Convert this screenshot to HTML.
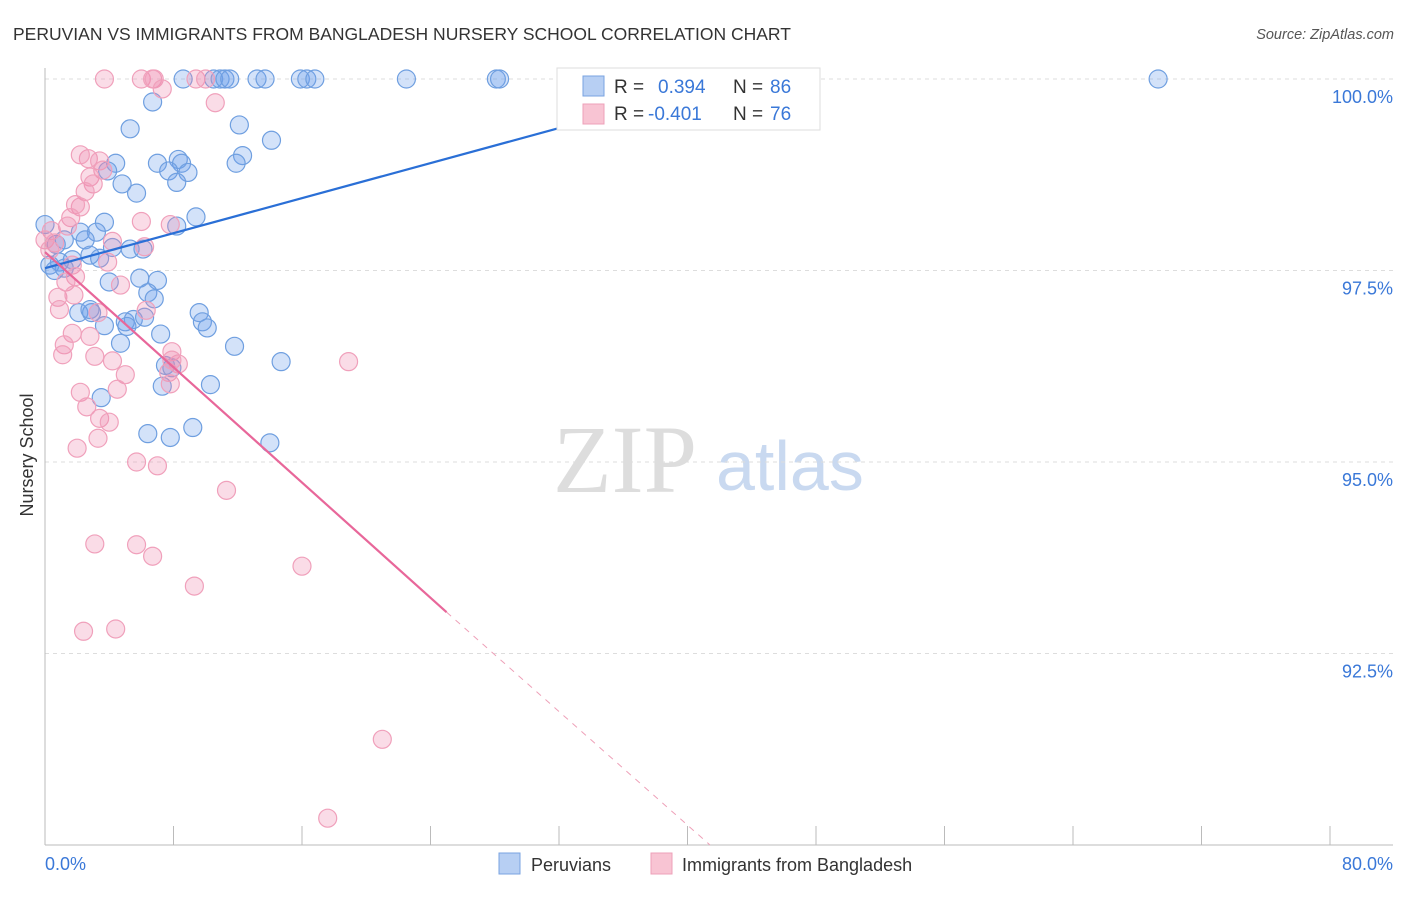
<!DOCTYPE html>
<html><head><meta charset="utf-8">
<style>
body{margin:0;background:#fff;font-family:"Liberation Sans",sans-serif;}
</style></head>
<body>
<svg id="chart" width="1406" height="892" xmlns="http://www.w3.org/2000/svg" font-family="Liberation Sans, sans-serif">
<text x="13" y="40" font-size="17.5" fill="#333">PERUVIAN VS IMMIGRANTS FROM BANGLADESH NURSERY SCHOOL CORRELATION CHART</text>
<text x="1394" y="39" font-size="14.5" fill="#555" font-style="italic" text-anchor="end">Source: ZipAtlas.com</text>
<g>
<text x="553" y="492" font-size="96" font-family="Liberation Serif, serif" fill="#ddd">ZIP</text>
<text x="716" y="490" font-size="70" fill="#c9d9f0">atlas</text>
</g>
<g id="grid"></g>
<g id="axes"></g>
<g id="marks"></g>
<g id="trends"></g>
<text transform="translate(33,455) rotate(-90)" font-size="18" fill="#333" text-anchor="middle">Nursery School</text>
<g>
<rect x="557" y="68" width="263" height="62" fill="#fff" stroke="#ddd"/>
<rect x="583" y="76" width="21" height="20" fill="#b7cff3" stroke="#7aa3e0"/>
<rect x="583" y="104" width="21" height="20" fill="#f8c4d3" stroke="#eea0b8"/>
<text x="614" y="93" font-size="19" fill="#333">R = </text><text x="658" y="93" font-size="19" fill="#3a78d8">0.394</text>
<text x="733" y="93" font-size="19" fill="#333">N = </text><text x="770" y="93" font-size="19" fill="#3a78d8">86</text>
<text x="614" y="120" font-size="19" fill="#333">R = </text><text x="648" y="120" font-size="19" fill="#3a78d8">-0.401</text>
<text x="733" y="120" font-size="19" fill="#333">N = </text><text x="770" y="120" font-size="19" fill="#3a78d8">76</text>
</g>
<g>
<g><rect x="499" y="853" width="21" height="21" fill="#b7cff3" stroke="#7aa3e0"/><text x="531" y="871" font-size="18" fill="#333">Peruvians</text></g>
<g><rect x="651" y="853" width="21" height="21" fill="#f8c4d3" stroke="#eea0b8"/><text x="682" y="871" font-size="18" fill="#333">Immigrants from Bangladesh</text></g>
</g>
</svg>
<script>
const xTicks=[0,8,16,24,32,40,48,56,64,72,80];
const yTicks=[100,97.5,95,92.5];
const yTickLabels=["100.0%","97.5%","95.0%","92.5%"];
const xEndLabels=["0.0%","80.0%"];
function px(x,y){return [(45+(x-45)),y];}
const blueX=[8.6,10.5,10.9,11.2,11.5,13.2,13.7,15.9,16.3,16.8,22.5,28.1,28.3,69.3,6.7,5.3,12.1,14.1,12.3,11.9,7,8.3,8.5,4.4,3.9,7.7,8.9,8.2,4.8,5.7,9.4,3.7,8.2,0,2.2,3.2,2.5,1.2,0.7,4.2,5.3,6.1,2.8,3.4,1.7,0.9,0.3,1.2,0.6,5.9,4.0,7.0,6.4,6.8,9.6,2.1,2.9,3.7,5.0,5.5,6.2,5.1,9.8,10.1,7.2,4.7,11.8,14.7,7.5,7.9,10.3,7.3,3.5,6.4,7.8,9.2,14.0,2.8];
const blueY=[100,100,100,100,100,100,100,100,100,100,100,100,100,100,99.7,99.35,99.4,99.2,99.0,98.9,98.9,98.95,98.9,98.9,98.8,98.8,98.78,98.65,98.63,98.51,98.2,98.13,98.08,98.1,98.0,98.0,97.9,97.9,97.84,97.8,97.78,97.78,97.7,97.66,97.64,97.61,97.57,97.53,97.5,97.4,97.35,97.37,97.21,97.13,96.95,96.95,96.95,96.78,96.83,96.86,96.89,96.77,96.83,96.75,96.67,96.55,96.51,96.31,96.26,96.23,96.01,95.99,95.84,95.37,95.32,95.45,95.25,96.99];
const pinkX=[3.7,6.0,6.7,6.8,9.4,10.0,7.3,10.6,2.7,3.4,3.6,2.8,3.0,2.5,2.2,1.9,1.6,1.4,6.0,7.8,0.4,0,0.6,4.2,6.2,0.3,3.9,1.7,1.9,1.3,4.7,0.8,1.8,0.9,3.3,6.3,1.7,2.8,1.2,1.1,3.1,7.9,4.2,8.3,7.7,18.9,5.0,7.8,4.5,2.2,2.6,3.4,4.0,3.3,2.0,5.7,7.0,11.3,3.1,5.7,6.7,16.0,9.3,2.4,4.4,21.0,17.6,2.2,7.9];
const pinkY=[100,100,100,100,100,100,99.87,99.69,98.96,98.93,98.81,98.72,98.63,98.53,98.33,98.36,98.19,98.08,98.14,98.1,98.02,97.9,97.86,97.88,97.81,97.77,97.61,97.57,97.42,97.35,97.31,97.15,97.18,96.99,96.95,96.98,96.68,96.64,96.53,96.4,96.38,96.44,96.32,96.28,96.17,96.31,96.14,96.02,95.95,95.91,95.72,95.57,95.52,95.31,95.18,95.0,94.95,94.63,93.93,93.92,93.77,93.64,93.38,92.79,92.82,91.38,90.35,99.01,96.33];
const blueTrend=[[0,97.53],[43.9,100.04]];
const pinkTrendSolid=[[0,97.74],[25.0,93.04]];
const pinkTrendDash=[[25.0,93.04],[41.4,90.0]];
const X=v=>45+v*(1330-45)/80;
const Y=v=>79+(100-v)*191.5/2.5;
const NS="http://www.w3.org/2000/svg";
function mk(tag,attrs,parent){const e=document.createElementNS(NS,tag);for(const k in attrs)e.setAttribute(k,attrs[k]);parent.appendChild(e);return e;}
const grid=document.getElementById('grid'),axes=document.getElementById('axes'),marks=document.getElementById('marks'),trends=document.getElementById('trends');
yTicks.forEach((t,i)=>{
 const l=mk('line',{x1:45,x2:1393,y1:Y(t),y2:Y(t),stroke:'#ddd','stroke-dasharray':'4,4'},grid);
 
 
 const tx=mk('text',{x:1393,y:Y(t)+24,'font-size':18,fill:'#3a78d8','text-anchor':'end'},axes);
 tx.textContent=yTickLabels[i];
 
 
});
mk('line',{x1:45,x2:45,y1:68,y2:845,stroke:'#bbb'},axes);
mk('line',{x1:45,x2:1393,y1:845,y2:845,stroke:'#bbb'},axes);
xTicks.forEach(t=>{
 const l=mk('line',{x1:X(t),x2:X(t),y1:826,y2:845,stroke:'#bbb'},axes);
 
 
});
const xl0=mk('text',{x:45,y:870,'font-size':18,fill:'#3a78d8'},axes);xl0.textContent=xEndLabels[0];


const xl1=mk('text',{x:1393,y:870,'font-size':18,fill:'#3a78d8','text-anchor':'end'},axes);xl1.textContent=xEndLabels[1];


function pts(xs,ys,fill,stroke,name){xs.forEach((x,i)=>{
 const c=mk('circle',{cx:X(x),cy:Y(ys[i]),r:9,fill:fill,stroke:stroke,'stroke-width':1.2},marks);
 
 
});}
pts(blueX,blueY,'rgba(110,160,235,0.3)','#6f9fe0','peruvian-point');
pts(pinkX,pinkY,'rgba(240,140,175,0.3)','#f0a0bb','bangladesh-point');
function line(seg,stroke,w,dash,name){
 const l=mk('line',{x1:X(seg[0][0]),y1:Y(seg[0][1]),x2:X(seg[1][0]),y2:Y(seg[1][1]),stroke:stroke,'stroke-width':w},trends);
 if(dash)l.setAttribute('stroke-dasharray',dash);
 
 
}
line(blueTrend,'#2a6fd6',2.2,null,'peruvian-trend-line');
line(pinkTrendSolid,'#e8679a',2.2,null,'bangladesh-trend-line');
line(pinkTrendDash,'#eea0b8',1,'6,6','bangladesh-trend-extension');
</script>
</body></html>
